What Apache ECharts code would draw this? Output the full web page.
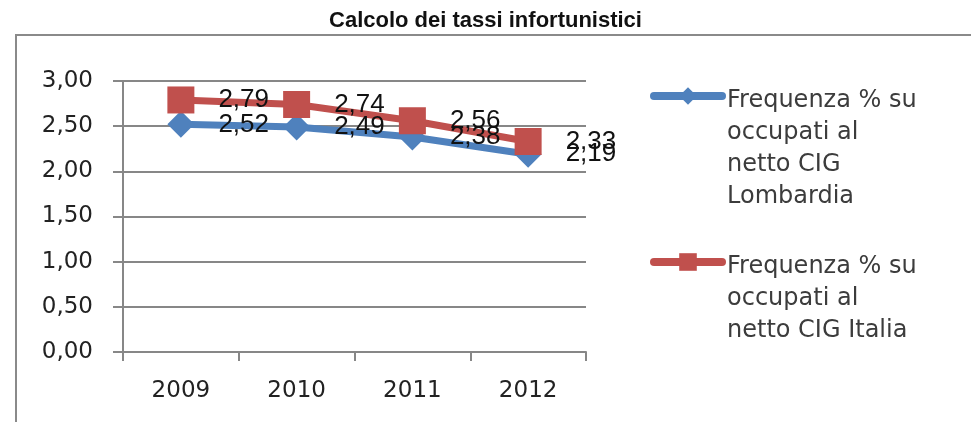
<!DOCTYPE html>
<html>
<head>
<meta charset="utf-8">
<script src="https://cdn.jsdelivr.net/npm/echarts@6/dist/echarts.min.js"></script>
<style>
    html, body { margin: 0; padding: 0; background: #fff; }
    #pic { width: 971px; height: 422px; }
</style>
</head>
<body>
<div id="pic"></div>
<script>
var years = ['2009', '2010', '2011', '2012'];
var lombardia = [2.52, 2.49, 2.38, 2.19];
var italia = [2.79, 2.74, 2.56, 2.33];
var yTicks = [0, 0.5, 1, 1.5, 2, 2.5, 3];
var names = [
    'Frequenza % su\noccupati al\nnetto CIG\nLombardia',
    'Frequenza % su\noccupati al\nnetto CIG Italia'
];

function comma(v){
    return v.toFixed(2).replace('.', ',');
}

var gray = '#878787';
var lineH = 32;

// legend text is centred on the icon: put a spacer line in front
// so the first text line sits level with the marker
function makeLegend(name, iconY){
    var n = name.split('\n').length;
    var spacer = n * lineH - lineH + 10;
    return {
        data: [name],
        formatter: function(s){ return '{s| }\n' + s; },
        left: 650,
        top: iconY - (spacer + n * lineH) / 2,
        padding: 0,
        itemWidth: 68,
        itemHeight: 22,
        itemGap: 0,
        lineStyle: {width: 8, cap: 'round'},
        textStyle: {
            fontFamily: 'DejaVu Sans',
            fontSize: 24,
            lineHeight: lineH,
            color: '#3c3c3c',
            rich: {s: {lineHeight: spacer, fontSize: 4}}
        }
    };
}

var option = {
    animation: false,
    title: {
        text: 'Calcolo dei tassi infortunistici',
        left: 'center',
        top: 5,
        textStyle: {
            fontFamily: 'Liberation Sans',
            fontWeight: 'bold',
            fontSize: 22,
            color: '#111'
        }
    },
    graphic: [{
        type: 'rect',
        shape: {x: 16, y: 35, width: 1000, height: 500},
        style: {fill: null, stroke: '#8a8a8a', lineWidth: 2}
    }],
    legend: [
        makeLegend(names[0], 96),
        makeLegend(names[1], 262)
    ],
    grid: {left: 123, right: 385, top: 81, bottom: 70},
    xAxis: {
        type: 'category',
        data: years,
        boundaryGap: true,
        axisLine: {lineStyle: {color: gray, width: 2}},
        axisTick: {show: true, length: 9, lineStyle: {color: gray, width: 2}},
        axisLabel: {
            margin: 28,
            fontFamily: 'DejaVu Sans',
            fontSize: 23,
            color: '#222'
        }
    },
    yAxis: {
        type: 'value',
        min: yTicks[0],
        max: yTicks[yTicks.length - 1],
        interval: 0.5,
        axisLine: {show: true, lineStyle: {color: gray, width: 2}},
        axisTick: {show: true, length: 10, lineStyle: {color: gray, width: 2}},
        splitLine: {lineStyle: {color: gray, width: 2}},
        axisLabel: {
            margin: 30,
            fontFamily: 'DejaVu Sans',
            fontSize: 23,
            color: '#222',
            formatter: comma
        }
    },
    series: [
        {
            name: names[0],
            type: 'line',
            data: lombardia,
            symbol: 'diamond',
            symbolSize: [27, 27],
            color: '#4f81bd',
            lineStyle: {width: 7, cap: 'round'},
            label: {
                show: true,
                position: 'right',
                distance: 24,
                fontFamily: 'Liberation Sans',
                fontSize: 26,
                color: '#111',
                formatter: function(p){ return comma(p.value); }
            }
        },
        {
            name: names[1],
            type: 'line',
            data: italia,
            symbol: 'rect',
            symbolSize: 27,
            color: '#c0504d',
            lineStyle: {width: 7, cap: 'round'},
            label: {
                show: true,
                position: 'right',
                distance: 24,
                fontFamily: 'Liberation Sans',
                fontSize: 26,
                color: '#111',
                formatter: function(p){ return comma(p.value); }
            }
        }
    ]
};

var pic = echarts.init(document.getElementById('pic'));
pic.setOption(option);
</script>
</body>
</html>
